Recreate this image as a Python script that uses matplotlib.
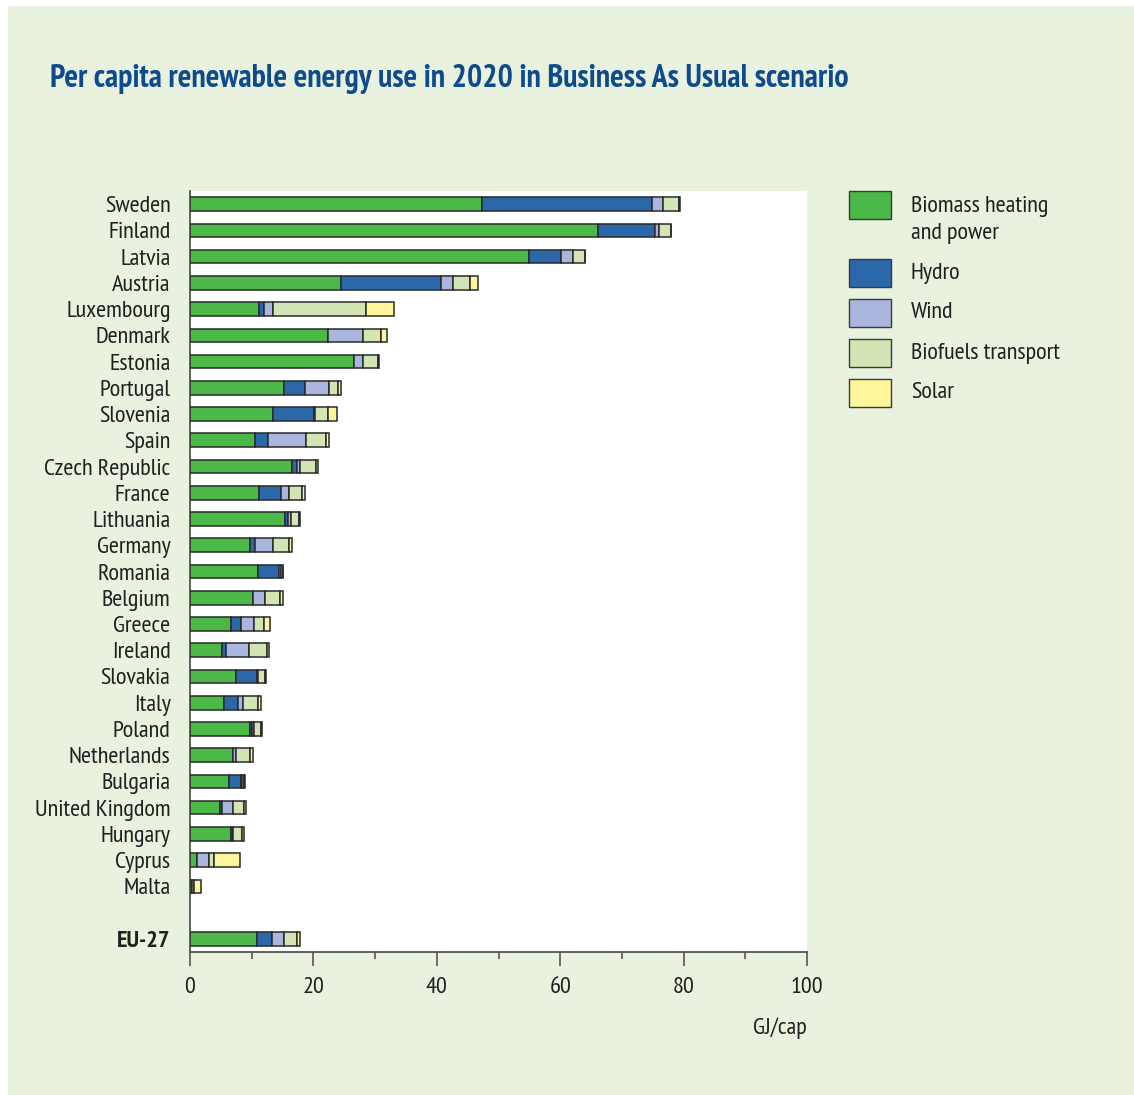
import matplotlib
matplotlib.use("Agg")
import matplotlib.pyplot as plt
from matplotlib import font_manager
from matplotlib.patches import Rectangle
from matplotlib.ticker import MultipleLocator
import numpy as np

# ---- data (GJ per capita, 2020, Business As Usual) ----
countries = ["Sweden", "Finland", "Latvia", "Austria", "Luxembourg", "Denmark",
             "Estonia", "Portugal", "Slovenia", "Spain", "Czech Republic", "France",
             "Lithuania", "Germany", "Romania", "Belgium", "Greece", "Ireland",
             "Slovakia", "Italy", "Poland", "Netherlands", "Bulgaria",
             "United Kingdom", "Hungary", "Cyprus", "Malta", "EU-27"]

biomass = [47.3, 66.2, 55.0, 24.4, 11.2, 22.4, 26.5, 15.3, 13.4, 10.5, 16.5, 11.2,
           15.4, 9.7, 11.0, 10.2, 6.6, 5.2, 7.4, 5.5, 9.7, 7.0, 6.4, 4.9, 6.7, 1.1,
           0.3, 10.8]
hydro = [27.5, 9.2, 5.2, 16.3, 0.8, 0.0, 0.0, 3.4, 6.7, 2.1, 0.8, 3.6, 0.5, 0.9,
         3.5, 0.0, 1.7, 0.7, 3.5, 2.2, 0.3, 0.0, 1.8, 0.3, 0.2, 0.0, 0.0, 2.5]
wind = [1.8, 0.6, 1.8, 2.0, 1.4, 5.7, 1.5, 3.9, 0.1, 6.2, 0.5, 1.2, 0.4, 2.8, 0.3,
        1.9, 2.0, 3.6, 0.1, 0.9, 0.3, 0.4, 0.2, 1.7, 0.1, 1.9, 0.1, 1.9]
biofuels = [2.6, 1.9, 2.0, 2.7, 15.2, 2.9, 2.5, 1.4, 2.2, 3.3, 2.7, 2.2, 1.4, 2.7,
            0.2, 2.5, 1.7, 2.9, 1.2, 2.4, 1.2, 2.3, 0.4, 1.9, 1.4, 0.9, 0.2, 2.2]
solar = [0.2, 0.1, 0.1, 1.3, 4.4, 0.9, 0.1, 0.5, 1.4, 0.5, 0.3, 0.4, 0.1, 0.5, 0.1,
         0.5, 0.9, 0.4, 0.1, 0.5, 0.1, 0.5, 0.1, 0.3, 0.3, 4.2, 1.2, 0.4]

series_names = ["Biomass heating\nand power", "Hydro", "Wind", "Biofuels transport", "Solar"]
series_colors = ["#4cb848", "#2b68a9", "#aab6de", "#d3e5b4", "#fff59b"]
x_ticks = [0, 20, 40, 60, 80, 100]
x_unit = "GJ/cap"
title = "Per capita renewable energy use in 2020 in Business As Usual scenario"

# ---- fonts: a narrow sans if one is installed ----
available = {f.name for f in font_manager.fontManager.ttflist}
narrow = next((n for n in ["PT Sans Narrow", "Archivo Narrow", "Liberation Sans"]
               if n in available), "DejaVu Sans")
plt.rcParams["font.family"] = [narrow, "DejaVu Sans"]

TEXT = "#231f20"
FS = 17.5
W, H = 1134, 1095
fig = plt.figure(figsize=(W / 100, H / 100), dpi=100)
fig.patch.set_facecolor("white")

# light green panel behind everything
fig.patches.append(Rectangle((8 / W, 0), 1 - 8 / W, (H - 6) / H,
                             transform=fig.transFigure, facecolor="#e8f2de",
                             edgecolor="none", zorder=-10))

left, right, top, bottom = 190, 807, 191, 952
ax = fig.add_axes([left / W, 1 - bottom / H, (right - left) / W, (bottom - top) / H])
ax.set_facecolor("white")

# row positions: EU-27 separated by an empty row
ypos = np.arange(len(countries), dtype=float)
ypos[-1] = len(countries)

stack = [biomass, hydro, wind, biofuels, solar]
base = np.zeros(len(countries))
for vals, col in zip(stack, series_colors):
    vals = np.asarray(vals)
    ax.barh(ypos, vals, left=base, height=0.52, color=col,
            edgecolor="#2a2a2a", linewidth=1.1, zorder=3)
    base += vals

ax.set_xlim(0, 100)
ax.set_ylim(len(countries) + 0.5, -0.5)
ax.set_yticks(ypos)
ax.set_yticklabels(countries)
ax.set_xticks(x_ticks)
ax.xaxis.set_minor_locator(MultipleLocator(10))

for s in ["top", "right"]:
    ax.spines[s].set_visible(False)
for s in ["left", "bottom"]:
    ax.spines[s].set_color("#555555")
    ax.spines[s].set_linewidth(1.3)

ax.tick_params(axis="y", length=0, pad=14, labelsize=FS, labelcolor=TEXT)
ax.tick_params(axis="x", which="major", length=10, width=1.2, color="#555555",
               pad=8, labelsize=FS, labelcolor=TEXT)
ax.tick_params(axis="x", which="minor", length=5, width=1.2, color="#555555")

for lbl in ax.get_yticklabels():
    if lbl.get_text() == "EU-27":
        lbl.set_fontweight("bold")

fig.text(right / W, 1 - 1028 / H, x_unit, ha="right", va="center",
         fontsize=FS, color=TEXT)

fig.text(50 / W, 1 - 79 / H, title, ha="left", va="center", fontsize=23,
         fontweight="bold", color="#0d4a8e")

# legend
patch_tops = [191, 259, 299, 339, 379]
for name, col, pt in zip(series_names, series_colors, patch_tops):
    fig.patches.append(Rectangle((849 / W, 1 - (pt + 28) / H), 42 / W, 28 / H,
                                 transform=fig.transFigure, facecolor=col,
                                 edgecolor="#3a3a3a", linewidth=1.0))
    if "\n" in name:
        fig.text(911 / W, 1 - (pt + 5) / H, name, ha="left", va="top",
                 fontsize=FS, color=TEXT, linespacing=1.4)
    else:
        fig.text(911 / W, 1 - (pt + 14) / H, name, ha="left", va="center",
                 fontsize=FS, color=TEXT)

fig.savefig("out.png", dpi=100, facecolor=fig.get_facecolor())
